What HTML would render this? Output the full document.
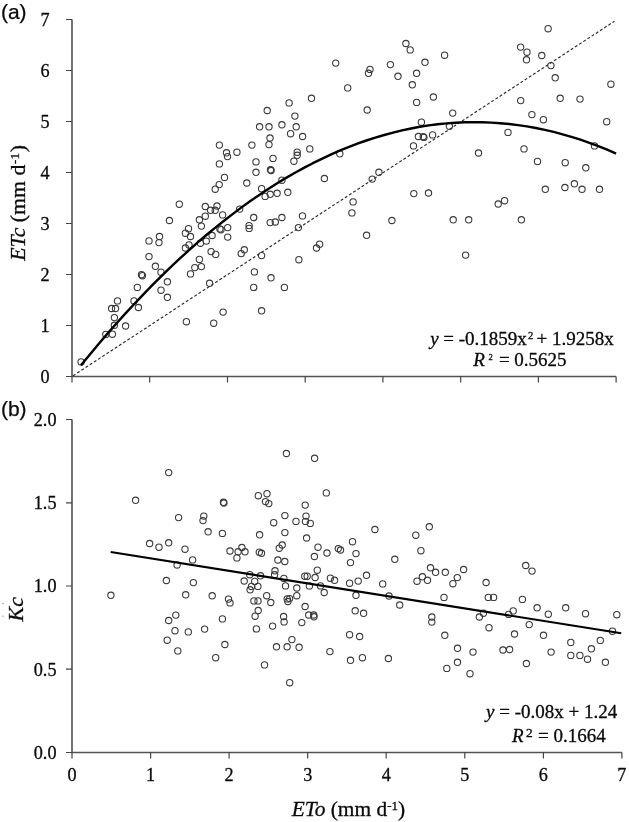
<!DOCTYPE html>
<html lang="en"><head><meta charset="utf-8"><title>ETc vs ETo</title>
<style>
html,body{margin:0;padding:0;background:#fff;}
body{width:629px;height:822px;overflow:hidden;}
svg{display:block;}
.s{font-family:"Liberation Serif","Times New Roman",serif;fill:#0a0a0a;stroke:#0a0a0a;stroke-width:.3px;}
.h{font-family:"Liberation Sans",Arial,sans-serif;fill:#0a0a0a;stroke:#0a0a0a;stroke-width:.25px;}
.t{font-size:18.2px;}
.q{font-size:19px;}
.l{font-size:22px;}
.p circle{fill:#fff;fill-opacity:0;stroke:#3a3a3a;stroke-width:1.1;}
.a{stroke:#525252;stroke-width:1.6;fill:none;}
</style></head><body>
<svg width="629" height="822" viewBox="0 0 629 822">
<rect width="629" height="822" fill="#fff"/>
<g class="a">
<path d="M72.0 19.5V376.5H616.1"/>
<path d="M66.0 376.5H72.0M66.0 325.5H72.0M66.0 274.5H72.0M66.0 223.5H72.0M66.0 172.5H72.0M66.0 121.5H72.0M66.0 70.5H72.0M66.0 19.5H72.0M72.0 376.5V382.5M149.7 376.5V382.5M227.5 376.5V382.5M305.2 376.5V382.5M382.9 376.5V382.5M460.7 376.5V382.5M538.4 376.5V382.5M616.1 376.5V382.5" stroke-width="1.2" stroke="#444"/>
</g>
<g class="s t" text-anchor="end">
<text x="49.5" y="382.9">0</text>
<text x="49.5" y="331.9">1</text>
<text x="49.5" y="280.9">2</text>
<text x="49.5" y="229.9">3</text>
<text x="49.5" y="178.9">4</text>
<text x="49.5" y="127.9">5</text>
<text x="49.5" y="76.9">6</text>
<text x="49.5" y="25.9">7</text>
</g>
<path d="M73.0 375.8L614.5 21.2" stroke="#2a2a2a" stroke-width="1.15" stroke-dasharray="2.9 2.1" fill="none"/>
<g class="p">
<circle cx="81.1" cy="361.9" r="3.15"/>
<circle cx="105.8" cy="334.4" r="3.15"/>
<circle cx="112.4" cy="334.2" r="3.15"/>
<circle cx="114.4" cy="325.3" r="3.15"/>
<circle cx="125.6" cy="326.0" r="3.15"/>
<circle cx="114.4" cy="317.6" r="3.15"/>
<circle cx="111.6" cy="308.5" r="3.15"/>
<circle cx="115.5" cy="308.5" r="3.15"/>
<circle cx="117.5" cy="300.9" r="3.15"/>
<circle cx="134.0" cy="300.9" r="3.15"/>
<circle cx="138.4" cy="307.5" r="3.15"/>
<circle cx="137.3" cy="287.4" r="3.15"/>
<circle cx="161.0" cy="290.2" r="3.15"/>
<circle cx="167.4" cy="297.3" r="3.15"/>
<circle cx="167.4" cy="281.8" r="3.15"/>
<circle cx="186.4" cy="321.7" r="3.15"/>
<circle cx="213.7" cy="323.2" r="3.15"/>
<circle cx="209.6" cy="283.3" r="3.15"/>
<circle cx="223.1" cy="312.1" r="3.15"/>
<circle cx="141.5" cy="274.7" r="3.15"/>
<circle cx="142.4" cy="275.7" r="3.15"/>
<circle cx="155.4" cy="266.3" r="3.15"/>
<circle cx="161.0" cy="272.2" r="3.15"/>
<circle cx="149.0" cy="256.6" r="3.15"/>
<circle cx="149.0" cy="240.9" r="3.15"/>
<circle cx="159.0" cy="242.6" r="3.15"/>
<circle cx="159.5" cy="236.5" r="3.15"/>
<circle cx="169.4" cy="220.5" r="3.15"/>
<circle cx="179.3" cy="204.2" r="3.15"/>
<circle cx="185.4" cy="233.2" r="3.15"/>
<circle cx="188.5" cy="228.7" r="3.15"/>
<circle cx="190.5" cy="236.5" r="3.15"/>
<circle cx="185.4" cy="248.0" r="3.15"/>
<circle cx="189.0" cy="244.9" r="3.15"/>
<circle cx="190.5" cy="273.9" r="3.15"/>
<circle cx="194.8" cy="267.6" r="3.15"/>
<circle cx="199.4" cy="259.4" r="3.15"/>
<circle cx="201.4" cy="266.6" r="3.15"/>
<circle cx="200.4" cy="243.2" r="3.15"/>
<circle cx="206.3" cy="241.1" r="3.15"/>
<circle cx="199.4" cy="219.8" r="3.15"/>
<circle cx="201.4" cy="226.1" r="3.15"/>
<circle cx="205.3" cy="216.2" r="3.15"/>
<circle cx="205.3" cy="206.5" r="3.15"/>
<circle cx="210.6" cy="210.3" r="3.15"/>
<circle cx="215.2" cy="210.3" r="3.15"/>
<circle cx="217.0" cy="206.0" r="3.15"/>
<circle cx="215.2" cy="189.2" r="3.15"/>
<circle cx="219.2" cy="184.6" r="3.15"/>
<circle cx="212.1" cy="235.5" r="3.15"/>
<circle cx="211.1" cy="251.6" r="3.15"/>
<circle cx="215.7" cy="254.4" r="3.15"/>
<circle cx="219.4" cy="145.1" r="3.15"/>
<circle cx="226.5" cy="152.8" r="3.15"/>
<circle cx="227.5" cy="156.6" r="3.15"/>
<circle cx="236.9" cy="152.2" r="3.15"/>
<circle cx="219.4" cy="163.9" r="3.15"/>
<circle cx="224.5" cy="177.4" r="3.15"/>
<circle cx="246.8" cy="183.0" r="3.15"/>
<circle cx="251.9" cy="145.1" r="3.15"/>
<circle cx="256.0" cy="161.9" r="3.15"/>
<circle cx="256.0" cy="172.3" r="3.15"/>
<circle cx="259.6" cy="126.8" r="3.15"/>
<circle cx="269.0" cy="126.8" r="3.15"/>
<circle cx="267.2" cy="110.5" r="3.15"/>
<circle cx="270.0" cy="138.0" r="3.15"/>
<circle cx="269.0" cy="144.6" r="3.15"/>
<circle cx="273.0" cy="158.4" r="3.15"/>
<circle cx="270.5" cy="169.8" r="3.15"/>
<circle cx="271.1" cy="170.5" r="3.15"/>
<circle cx="281.9" cy="124.8" r="3.15"/>
<circle cx="289.1" cy="102.9" r="3.15"/>
<circle cx="294.9" cy="116.1" r="3.15"/>
<circle cx="296.2" cy="126.8" r="3.15"/>
<circle cx="290.6" cy="133.7" r="3.15"/>
<circle cx="293.9" cy="161.2" r="3.15"/>
<circle cx="297.2" cy="152.2" r="3.15"/>
<circle cx="297.2" cy="155.3" r="3.15"/>
<circle cx="281.9" cy="180.2" r="3.15"/>
<circle cx="222.6" cy="214.9" r="3.15"/>
<circle cx="219.9" cy="228.9" r="3.15"/>
<circle cx="221.0" cy="229.7" r="3.15"/>
<circle cx="227.7" cy="227.6" r="3.15"/>
<circle cx="227.7" cy="237.1" r="3.15"/>
<circle cx="239.7" cy="209.1" r="3.15"/>
<circle cx="253.7" cy="217.5" r="3.15"/>
<circle cx="249.1" cy="225.6" r="3.15"/>
<circle cx="249.1" cy="228.4" r="3.15"/>
<circle cx="244.3" cy="249.8" r="3.15"/>
<circle cx="241.2" cy="253.6" r="3.15"/>
<circle cx="261.6" cy="255.6" r="3.15"/>
<circle cx="254.4" cy="271.9" r="3.15"/>
<circle cx="271.0" cy="277.8" r="3.15"/>
<circle cx="261.6" cy="188.7" r="3.15"/>
<circle cx="265.1" cy="196.4" r="3.15"/>
<circle cx="270.2" cy="194.3" r="3.15"/>
<circle cx="277.1" cy="193.3" r="3.15"/>
<circle cx="287.8" cy="192.3" r="3.15"/>
<circle cx="270.2" cy="222.6" r="3.15"/>
<circle cx="275.3" cy="222.0" r="3.15"/>
<circle cx="281.9" cy="217.5" r="3.15"/>
<circle cx="302.5" cy="215.9" r="3.15"/>
<circle cx="298.4" cy="227.6" r="3.15"/>
<circle cx="298.9" cy="259.7" r="3.15"/>
<circle cx="316.5" cy="248.0" r="3.15"/>
<circle cx="319.6" cy="244.2" r="3.15"/>
<circle cx="324.4" cy="178.5" r="3.15"/>
<circle cx="353.1" cy="201.9" r="3.15"/>
<circle cx="351.9" cy="212.9" r="3.15"/>
<circle cx="366.6" cy="235.3" r="3.15"/>
<circle cx="372.2" cy="179.1" r="3.15"/>
<circle cx="253.7" cy="287.4" r="3.15"/>
<circle cx="261.6" cy="310.8" r="3.15"/>
<circle cx="284.4" cy="287.4" r="3.15"/>
<circle cx="302.6" cy="136.5" r="3.15"/>
<circle cx="309.8" cy="148.9" r="3.15"/>
<circle cx="311.5" cy="98.3" r="3.15"/>
<circle cx="339.8" cy="153.8" r="3.15"/>
<circle cx="347.7" cy="87.9" r="3.15"/>
<circle cx="367.2" cy="110.0" r="3.15"/>
<circle cx="378.9" cy="172.3" r="3.15"/>
<circle cx="412.3" cy="84.8" r="3.15"/>
<circle cx="416.6" cy="102.4" r="3.15"/>
<circle cx="433.4" cy="97.0" r="3.15"/>
<circle cx="421.4" cy="122.2" r="3.15"/>
<circle cx="418.4" cy="136.5" r="3.15"/>
<circle cx="423.2" cy="136.6" r="3.15"/>
<circle cx="423.9" cy="137.4" r="3.15"/>
<circle cx="432.6" cy="134.9" r="3.15"/>
<circle cx="413.5" cy="145.9" r="3.15"/>
<circle cx="449.4" cy="126.3" r="3.15"/>
<circle cx="452.7" cy="113.1" r="3.15"/>
<circle cx="335.7" cy="63.1" r="3.15"/>
<circle cx="368.5" cy="73.3" r="3.15"/>
<circle cx="370.0" cy="69.4" r="3.15"/>
<circle cx="390.4" cy="64.6" r="3.15"/>
<circle cx="398.0" cy="76.3" r="3.15"/>
<circle cx="405.9" cy="43.5" r="3.15"/>
<circle cx="410.2" cy="49.9" r="3.15"/>
<circle cx="416.6" cy="73.3" r="3.15"/>
<circle cx="425.0" cy="62.3" r="3.15"/>
<circle cx="444.6" cy="55.2" r="3.15"/>
<circle cx="391.9" cy="220.5" r="3.15"/>
<circle cx="413.8" cy="193.6" r="3.15"/>
<circle cx="428.5" cy="193.0" r="3.15"/>
<circle cx="453.2" cy="219.8" r="3.15"/>
<circle cx="468.7" cy="219.8" r="3.15"/>
<circle cx="465.6" cy="255.1" r="3.15"/>
<circle cx="498.2" cy="204.0" r="3.15"/>
<circle cx="504.6" cy="200.7" r="3.15"/>
<circle cx="521.4" cy="219.8" r="3.15"/>
<circle cx="478.5" cy="153.0" r="3.15"/>
<circle cx="508.0" cy="132.4" r="3.15"/>
<circle cx="520.7" cy="100.6" r="3.15"/>
<circle cx="531.9" cy="114.6" r="3.15"/>
<circle cx="543.4" cy="119.7" r="3.15"/>
<circle cx="524.0" cy="148.9" r="3.15"/>
<circle cx="537.5" cy="161.4" r="3.15"/>
<circle cx="560.2" cy="98.3" r="3.15"/>
<circle cx="580.0" cy="99.1" r="3.15"/>
<circle cx="606.7" cy="121.7" r="3.15"/>
<circle cx="594.5" cy="145.9" r="3.15"/>
<circle cx="565.2" cy="162.7" r="3.15"/>
<circle cx="585.8" cy="167.8" r="3.15"/>
<circle cx="574.4" cy="183.8" r="3.15"/>
<circle cx="548.1" cy="28.7" r="3.15"/>
<circle cx="520.6" cy="47.1" r="3.15"/>
<circle cx="527.0" cy="52.2" r="3.15"/>
<circle cx="526.5" cy="59.8" r="3.15"/>
<circle cx="541.8" cy="55.5" r="3.15"/>
<circle cx="550.9" cy="65.6" r="3.15"/>
<circle cx="555.2" cy="77.8" r="3.15"/>
<circle cx="610.9" cy="84.2" r="3.15"/>
<circle cx="545.3" cy="189.3" r="3.15"/>
<circle cx="564.9" cy="187.5" r="3.15"/>
<circle cx="582.0" cy="189.3" r="3.15"/>
<circle cx="599.5" cy="189.3" r="3.15"/>
</g>
<path d="M80.9 365.3 L89.9 354.4 L98.8 343.8 L107.7 333.4 L116.6 323.2 L125.5 313.4 L134.5 303.7 L143.4 294.3 L152.3 285.2 L161.2 276.3 L170.1 267.6 L179.1 259.2 L188.0 251.1 L196.9 243.2 L205.8 235.5 L214.7 228.1 L223.7 221.0 L232.6 214.1 L241.5 207.4 L250.4 201.0 L259.3 194.9 L268.2 189.0 L277.2 183.3 L286.1 177.9 L295.0 172.8 L303.9 167.9 L312.8 163.2 L321.8 158.8 L330.7 154.6 L339.6 150.7 L348.5 147.1 L357.4 143.7 L366.4 140.5 L375.3 137.6 L384.2 135.0 L393.1 132.6 L402.0 130.4 L411.0 128.5 L419.9 126.8 L428.8 125.4 L437.7 124.3 L446.6 123.4 L455.6 122.7 L464.5 122.3 L473.4 122.1 L482.3 122.2 L491.2 122.6 L500.2 123.2 L509.1 124.0 L518.0 125.1 L526.9 126.4 L535.8 128.0 L544.8 129.9 L553.7 131.9 L562.6 134.3 L571.5 136.9 L580.4 139.7 L589.4 142.8 L598.3 146.1 L607.2 149.7 L616.1 153.6" stroke="#000" stroke-width="2.4" fill="none" stroke-linejoin="round"/>
<text class="s q" x="613.8" y="344.5" text-anchor="end"><tspan font-style="italic">y</tspan> = -0.1859x<tspan font-size="10.5" dy="-5.3" dx="1.2">2</tspan><tspan dy="5.3" dx="-1.5"> + 1.9258x</tspan></text>
<text class="s q" x="473.3" y="366.0"><tspan font-style="italic">R</tspan><tspan font-size="8.5" dy="-6.1" dx="3.6">2</tspan><tspan dy="6.1" dx="1.4"> = 0.5625</tspan></text>
<text class="s l" transform="translate(25.3 202.9) rotate(-90)" text-anchor="middle" style="font-size:21.8px"><tspan font-style="italic">ETc</tspan> (mm d<tspan font-size="13" dy="-6.3" dx="0.8">-1</tspan><tspan dy="6.3" dx="0.8">)</tspan></text>
<text class="h" x="0.9" y="18.8" font-size="21">(a)</text>
<g class="a">
<path d="M72.0 419.5V752.5H621.9"/>
<path d="M66.0 752.5H72.0M66.0 669.2H72.0M66.0 586.0H72.0M66.0 502.8H72.0M66.0 419.5H72.0M72.0 752.5V758.5M150.6 752.5V758.5M229.1 752.5V758.5M307.7 752.5V758.5M386.2 752.5V758.5M464.8 752.5V758.5M543.4 752.5V758.5M621.9 752.5V758.5" stroke-width="1.2" stroke="#444"/>
</g>
<g class="s t" text-anchor="end">
<text x="56.5" y="758.8">0.0</text>
<text x="56.5" y="675.5">0.5</text>
<text x="56.5" y="592.3">1.0</text>
<text x="56.5" y="509.1">1.5</text>
<text x="56.5" y="425.8">2.0</text>
</g>
<g class="s t" text-anchor="middle">
<text x="72.0" y="780.5">0</text>
<text x="150.6" y="780.5">1</text>
<text x="229.1" y="780.5">2</text>
<text x="307.7" y="780.5">3</text>
<text x="386.2" y="780.5">4</text>
<text x="464.8" y="780.5">5</text>
<text x="543.4" y="780.5">6</text>
<text x="621.9" y="780.5">7</text>
</g>
<g class="p">
<circle cx="168.7" cy="472.6" r="3.15"/>
<circle cx="135.6" cy="500.3" r="3.15"/>
<circle cx="178.6" cy="517.6" r="3.15"/>
<circle cx="223.4" cy="502.3" r="3.15"/>
<circle cx="223.9" cy="503.0" r="3.15"/>
<circle cx="203.8" cy="516.1" r="3.15"/>
<circle cx="203.0" cy="520.6" r="3.15"/>
<circle cx="208.1" cy="531.8" r="3.15"/>
<circle cx="222.4" cy="533.4" r="3.15"/>
<circle cx="258.3" cy="495.7" r="3.15"/>
<circle cx="259.6" cy="534.8" r="3.15"/>
<circle cx="149.6" cy="543.5" r="3.15"/>
<circle cx="159.0" cy="547.2" r="3.15"/>
<circle cx="168.7" cy="542.8" r="3.15"/>
<circle cx="185.0" cy="549.2" r="3.15"/>
<circle cx="192.6" cy="559.9" r="3.15"/>
<circle cx="177.1" cy="565.0" r="3.15"/>
<circle cx="166.4" cy="580.5" r="3.15"/>
<circle cx="193.4" cy="582.6" r="3.15"/>
<circle cx="110.9" cy="595.3" r="3.15"/>
<circle cx="185.7" cy="594.8" r="3.15"/>
<circle cx="212.2" cy="595.8" r="3.15"/>
<circle cx="228.5" cy="599.1" r="3.15"/>
<circle cx="230.0" cy="602.9" r="3.15"/>
<circle cx="175.8" cy="615.1" r="3.15"/>
<circle cx="168.7" cy="620.5" r="3.15"/>
<circle cx="175.0" cy="630.7" r="3.15"/>
<circle cx="188.3" cy="631.9" r="3.15"/>
<circle cx="204.6" cy="629.1" r="3.15"/>
<circle cx="222.4" cy="618.9" r="3.15"/>
<circle cx="230.0" cy="551.0" r="3.15"/>
<circle cx="238.1" cy="551.8" r="3.15"/>
<circle cx="241.9" cy="547.5" r="3.15"/>
<circle cx="245.0" cy="551.8" r="3.15"/>
<circle cx="236.9" cy="557.9" r="3.15"/>
<circle cx="244.2" cy="581.0" r="3.15"/>
<circle cx="249.8" cy="574.7" r="3.15"/>
<circle cx="254.7" cy="581.4" r="3.15"/>
<circle cx="251.5" cy="586.4" r="3.15"/>
<circle cx="250.1" cy="589.8" r="3.15"/>
<circle cx="257.9" cy="586.4" r="3.15"/>
<circle cx="253.9" cy="600.9" r="3.15"/>
<circle cx="258.0" cy="600.9" r="3.15"/>
<circle cx="258.2" cy="610.5" r="3.15"/>
<circle cx="255.1" cy="616.2" r="3.15"/>
<circle cx="256.4" cy="628.9" r="3.15"/>
<circle cx="286.4" cy="453.5" r="3.15"/>
<circle cx="314.6" cy="458.3" r="3.15"/>
<circle cx="267.0" cy="493.7" r="3.15"/>
<circle cx="265.5" cy="501.6" r="3.15"/>
<circle cx="268.8" cy="503.6" r="3.15"/>
<circle cx="326.3" cy="492.9" r="3.15"/>
<circle cx="305.2" cy="505.1" r="3.15"/>
<circle cx="284.9" cy="515.6" r="3.15"/>
<circle cx="273.7" cy="522.7" r="3.15"/>
<circle cx="296.0" cy="521.4" r="3.15"/>
<circle cx="306.0" cy="516.1" r="3.15"/>
<circle cx="305.5" cy="521.4" r="3.15"/>
<circle cx="310.3" cy="523.4" r="3.15"/>
<circle cx="284.9" cy="532.6" r="3.15"/>
<circle cx="306.6" cy="538.0" r="3.15"/>
<circle cx="352.5" cy="541.7" r="3.15"/>
<circle cx="374.9" cy="529.5" r="3.15"/>
<circle cx="259.3" cy="552.2" r="3.15"/>
<circle cx="261.5" cy="553.3" r="3.15"/>
<circle cx="279.3" cy="548.2" r="3.15"/>
<circle cx="282.2" cy="545.0" r="3.15"/>
<circle cx="277.9" cy="560.0" r="3.15"/>
<circle cx="284.8" cy="561.5" r="3.15"/>
<circle cx="318.0" cy="547.2" r="3.15"/>
<circle cx="314.4" cy="556.5" r="3.15"/>
<circle cx="327.0" cy="553.0" r="3.15"/>
<circle cx="275.0" cy="570.8" r="3.15"/>
<circle cx="274.6" cy="574.8" r="3.15"/>
<circle cx="260.5" cy="575.8" r="3.15"/>
<circle cx="283.9" cy="578.4" r="3.15"/>
<circle cx="304.8" cy="576.2" r="3.15"/>
<circle cx="307.2" cy="576.2" r="3.15"/>
<circle cx="317.3" cy="570.2" r="3.15"/>
<circle cx="315.1" cy="577.5" r="3.15"/>
<circle cx="330.4" cy="578.2" r="3.15"/>
<circle cx="334.6" cy="580.3" r="3.15"/>
<circle cx="285.5" cy="585.9" r="3.15"/>
<circle cx="296.8" cy="588.0" r="3.15"/>
<circle cx="309.4" cy="585.9" r="3.15"/>
<circle cx="320.5" cy="585.9" r="3.15"/>
<circle cx="324.2" cy="592.5" r="3.15"/>
<circle cx="338.3" cy="548.6" r="3.15"/>
<circle cx="340.5" cy="550.0" r="3.15"/>
<circle cx="356.0" cy="553.6" r="3.15"/>
<circle cx="350.5" cy="562.6" r="3.15"/>
<circle cx="394.8" cy="559.3" r="3.15"/>
<circle cx="349.6" cy="583.2" r="3.15"/>
<circle cx="358.2" cy="581.1" r="3.15"/>
<circle cx="366.5" cy="575.3" r="3.15"/>
<circle cx="382.7" cy="583.9" r="3.15"/>
<circle cx="266.7" cy="595.7" r="3.15"/>
<circle cx="270.8" cy="602.5" r="3.15"/>
<circle cx="272.6" cy="626.1" r="3.15"/>
<circle cx="283.6" cy="616.5" r="3.15"/>
<circle cx="284.1" cy="621.9" r="3.15"/>
<circle cx="287.2" cy="598.9" r="3.15"/>
<circle cx="289.6" cy="598.6" r="3.15"/>
<circle cx="287.9" cy="601.5" r="3.15"/>
<circle cx="296.8" cy="595.7" r="3.15"/>
<circle cx="305.1" cy="606.5" r="3.15"/>
<circle cx="301.8" cy="622.6" r="3.15"/>
<circle cx="308.7" cy="615.0" r="3.15"/>
<circle cx="313.7" cy="615.0" r="3.15"/>
<circle cx="314.0" cy="616.8" r="3.15"/>
<circle cx="291.9" cy="639.6" r="3.15"/>
<circle cx="356.0" cy="595.3" r="3.15"/>
<circle cx="389.0" cy="596.0" r="3.15"/>
<circle cx="399.7" cy="605.0" r="3.15"/>
<circle cx="355.2" cy="610.8" r="3.15"/>
<circle cx="363.6" cy="613.3" r="3.15"/>
<circle cx="349.6" cy="634.7" r="3.15"/>
<circle cx="359.6" cy="636.5" r="3.15"/>
<circle cx="167.2" cy="640.2" r="3.15"/>
<circle cx="177.8" cy="650.9" r="3.15"/>
<circle cx="215.7" cy="657.7" r="3.15"/>
<circle cx="224.9" cy="644.5" r="3.15"/>
<circle cx="276.5" cy="646.8" r="3.15"/>
<circle cx="287.1" cy="646.8" r="3.15"/>
<circle cx="299.1" cy="647.3" r="3.15"/>
<circle cx="264.5" cy="664.9" r="3.15"/>
<circle cx="289.7" cy="682.7" r="3.15"/>
<circle cx="329.9" cy="651.6" r="3.15"/>
<circle cx="350.5" cy="660.3" r="3.15"/>
<circle cx="362.4" cy="657.7" r="3.15"/>
<circle cx="388.4" cy="658.5" r="3.15"/>
<circle cx="429.3" cy="526.8" r="3.15"/>
<circle cx="415.8" cy="535.2" r="3.15"/>
<circle cx="420.9" cy="550.7" r="3.15"/>
<circle cx="430.5" cy="567.8" r="3.15"/>
<circle cx="435.6" cy="572.3" r="3.15"/>
<circle cx="445.3" cy="572.3" r="3.15"/>
<circle cx="463.6" cy="569.5" r="3.15"/>
<circle cx="457.3" cy="577.6" r="3.15"/>
<circle cx="422.4" cy="576.8" r="3.15"/>
<circle cx="417.0" cy="581.2" r="3.15"/>
<circle cx="427.5" cy="580.3" r="3.15"/>
<circle cx="452.9" cy="583.7" r="3.15"/>
<circle cx="486.1" cy="582.5" r="3.15"/>
<circle cx="525.7" cy="565.5" r="3.15"/>
<circle cx="532.0" cy="571.1" r="3.15"/>
<circle cx="444.0" cy="597.4" r="3.15"/>
<circle cx="431.8" cy="617.0" r="3.15"/>
<circle cx="431.8" cy="622.1" r="3.15"/>
<circle cx="444.8" cy="635.3" r="3.15"/>
<circle cx="457.5" cy="648.3" r="3.15"/>
<circle cx="457.5" cy="662.3" r="3.15"/>
<circle cx="446.8" cy="668.4" r="3.15"/>
<circle cx="470.0" cy="673.7" r="3.15"/>
<circle cx="473.0" cy="652.1" r="3.15"/>
<circle cx="479.4" cy="617.0" r="3.15"/>
<circle cx="483.4" cy="613.2" r="3.15"/>
<circle cx="489.0" cy="627.7" r="3.15"/>
<circle cx="488.3" cy="597.4" r="3.15"/>
<circle cx="493.6" cy="597.4" r="3.15"/>
<circle cx="503.0" cy="650.0" r="3.15"/>
<circle cx="509.6" cy="649.5" r="3.15"/>
<circle cx="514.5" cy="634.0" r="3.15"/>
<circle cx="508.6" cy="614.4" r="3.15"/>
<circle cx="513.2" cy="610.9" r="3.15"/>
<circle cx="522.4" cy="599.4" r="3.15"/>
<circle cx="529.2" cy="624.6" r="3.15"/>
<circle cx="526.4" cy="663.5" r="3.15"/>
<circle cx="537.1" cy="607.8" r="3.15"/>
<circle cx="548.3" cy="614.2" r="3.15"/>
<circle cx="543.5" cy="635.3" r="3.15"/>
<circle cx="551.1" cy="652.1" r="3.15"/>
<circle cx="565.7" cy="607.8" r="3.15"/>
<circle cx="570.8" cy="642.4" r="3.15"/>
<circle cx="570.8" cy="655.4" r="3.15"/>
<circle cx="579.9" cy="655.4" r="3.15"/>
<circle cx="585.5" cy="613.7" r="3.15"/>
<circle cx="587.5" cy="659.2" r="3.15"/>
<circle cx="591.4" cy="648.8" r="3.15"/>
<circle cx="600.3" cy="640.4" r="3.15"/>
<circle cx="605.4" cy="662.3" r="3.15"/>
<circle cx="612.5" cy="631.2" r="3.15"/>
<circle cx="616.8" cy="614.7" r="3.15"/>
</g>
<path d="M110.7 552.0L621.2 633.3" stroke="#000" stroke-width="2.15" fill="none"/>
<text class="s q" x="617.3" y="718.2" text-anchor="end"><tspan font-style="italic">y</tspan> = -0.08x + 1.24</text>
<text class="s q" x="512" y="741.6"><tspan font-style="italic">R</tspan><tspan font-size="13.5" dy="-4.6" dx="2.4">2</tspan><tspan dy="4.6" dx="0.6"> = 0.1664</tspan></text>
<text class="s l" transform="translate(22.6 609.3) rotate(-90)" text-anchor="middle" font-style="italic">Kc</text>
<text class="s l" x="348.4" y="815.8" text-anchor="middle" style="font-size:21.4px"><tspan font-style="italic">ETo</tspan> (mm d<tspan font-size="13" dy="-6.3">-1</tspan><tspan dy="6.3">)</tspan></text>
<path d="M1.8 603.7h2.3M1.8 616.2h2.3" stroke="#a8a8a8" stroke-width="0.9" fill="none"/>
<text class="h" x="0.9" y="416.3" font-size="21">(b)</text>
</svg></body></html>
